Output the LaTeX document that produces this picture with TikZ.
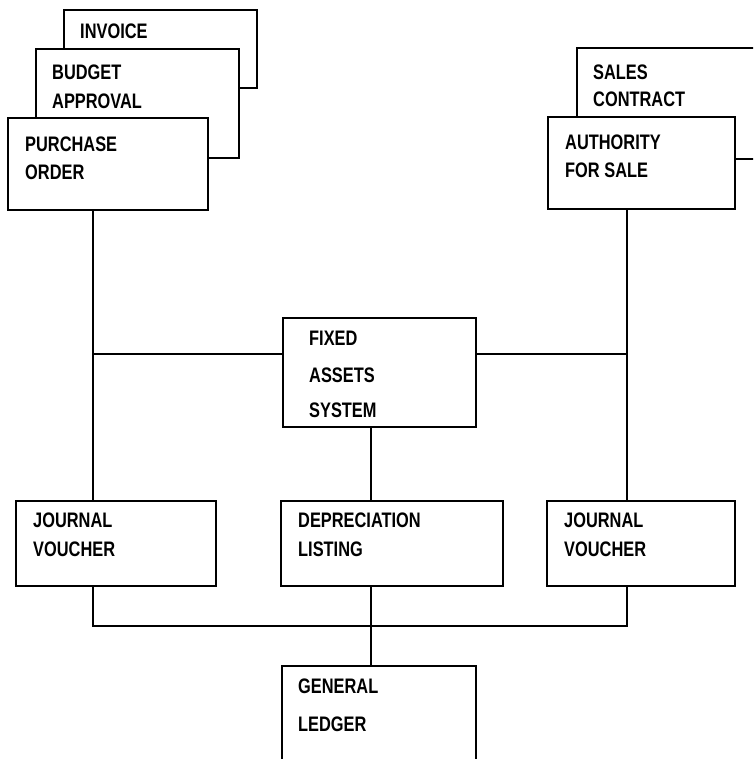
\documentclass[tikz,border=0pt]{standalone}
\usepackage{fontspec}
\newfontfamily\lab{Liberation Sans}[FakeStretch=0.78]
\begin{document}
\begin{tikzpicture}[x=1pt,y=-1pt,
  docbox/.style={draw, line width=2pt, fill=white, rectangle, inner sep=0pt,
                 outer sep=0pt, anchor=north west},
  lbl/.style={anchor=base west, inner sep=0pt,
              font=\lab\bfseries\fontsize{21}{21}\selectfont},
  wire/.style={line width=2pt}]
\clip (0,0) rectangle (753,759);
\fill[white] (0,0) rectangle (753,759);

% stacked source documents, left
\node[docbox, minimum width=193pt, minimum height=78pt]  (inv) at (64,10)  {};
\node[docbox, minimum width=203pt, minimum height=109pt] (bud) at (36,49)  {};
\node[docbox, minimum width=200pt, minimum height=92pt]  (po)  at (8,118)  {};
% stacked source documents, right
\node[docbox, minimum width=250pt, minimum height=111pt] (sc)  at (577,48) {};
\node[docbox, minimum width=187pt, minimum height=92pt]  (afs) at (548,117) {};
% central system
\node[docbox, minimum width=193pt, minimum height=109pt] (fas) at (283,318) {};
% outputs
\node[docbox, minimum width=200pt, minimum height=85pt]  (jv1) at (16,501)  {};
\node[docbox, minimum width=222pt, minimum height=85pt]  (dep) at (281,501) {};
\node[docbox, minimum width=188pt, minimum height=85pt]  (jv2) at (547,501) {};
\node[docbox, minimum width=194pt, minimum height=150pt] (gl)  at (282,666) {};

% labels
\node[lbl] (inv-a) at (80,39)  {INVOICE};
\node[lbl] (bud-a) at (52,80)  {BUDGET};
\node[lbl] (bud-b) at (52,109) {APPROVAL};
\node[lbl] (po-a)  at (25,152) {PURCHASE};
\node[lbl] (po-b)  at (25,180) {ORDER};
\node[lbl] (sc-a)  at (593,80)  {SALES};
\node[lbl] (sc-b)  at (593,107) {CONTRACT};
\node[lbl] (afs-a) at (565,150) {AUTHORITY};
\node[lbl] (afs-b) at (565,178) {FOR SALE};
\node[lbl] (fas-a) at (309,345) {FIXED};
\node[lbl] (fas-b) at (309,382) {ASSETS};
\node[lbl] (fas-c) at (309,417) {SYSTEM};
\node[lbl] (jv1-a) at (33,527)  {JOURNAL};
\node[lbl] (jv1-b) at (33,556)  {VOUCHER};
\node[lbl] (dep-a) at (298,527) {DEPRECIATION};
\node[lbl] (dep-b) at (298,556) {LISTING};
\node[lbl] (jv2-a) at (564,527) {JOURNAL};
\node[lbl] (jv2-b) at (564,556) {VOUCHER};
\node[lbl] (gl-a)  at (298,693) {GENERAL};
\node[lbl] (gl-b)  at (298,731) {LEDGER};

% guide coordinates for the connector runs
\coordinate (lx) at (93,0);
\coordinate (rx) at (627,0);
\coordinate (mx) at (371,0);
\coordinate (ly) at (0,354);
\coordinate (by) at (0,626);

% connectors
\draw[wire] (po.south -| lx) -- (jv1.north -| lx);
\draw[wire] (afs.south -| rx) -- (jv2.north -| rx);
\draw[wire] (fas.west |- ly) -- (lx |- ly);
\draw[wire] (fas.east |- ly) -- (rx |- ly);
\draw[wire] (fas.south -| mx) -- (dep.north -| mx);
\draw[wire] (jv1.south -| lx) -- (lx |- by) -- (rx |- by) -- (jv2.south -| rx);
\draw[wire] (dep.south -| mx) -- (gl.north -| mx);
\end{tikzpicture}
\end{document}
